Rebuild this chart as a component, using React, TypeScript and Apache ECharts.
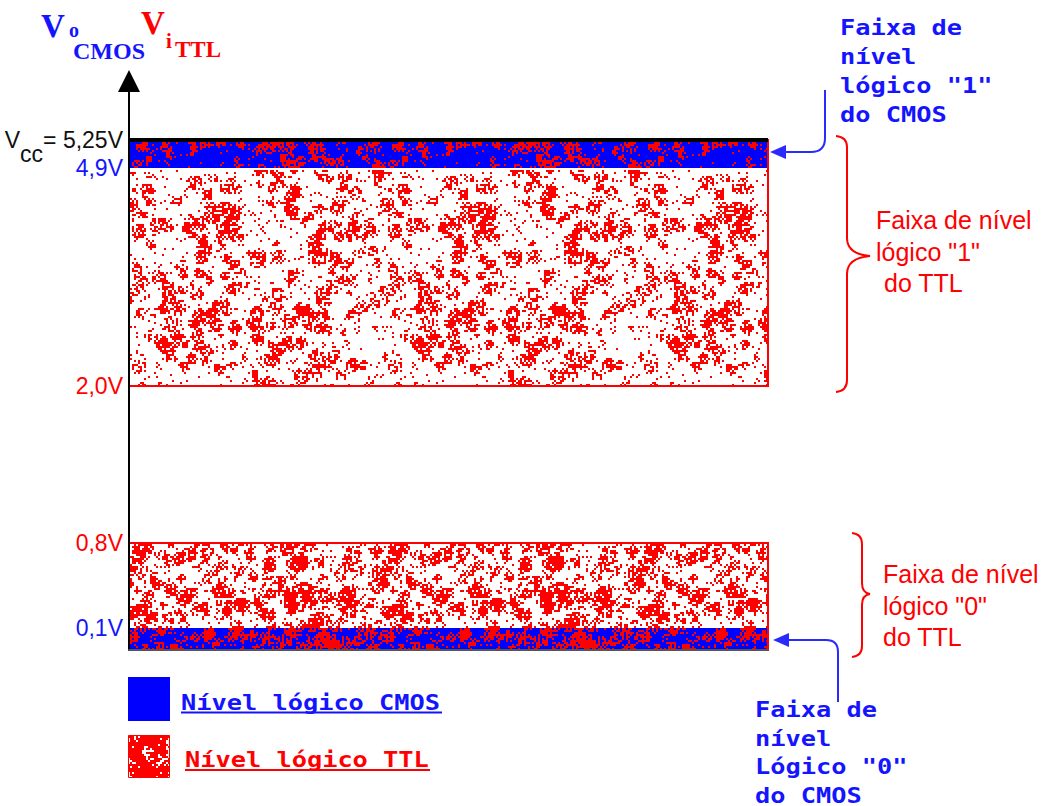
import React, { useEffect, useRef } from "react";
import * as echarts from "echarts";

// ---------------- data ----------------
const levelVolts = [5.25, 4.9, 2.0, 0.8, 0.1];
const levelTexts = ["Vcc= 5,25V", "4,9V", "2,0V", "0,8V", "0,1V"];
const levelFamilies = ["vcc", "cmos", "ttl", "ttl", "cmos"];
const cmosBands = [
  [0, 0.1],
  [4.9, 5.25],
];
const ttlBands = [
  [0, 0.8],
  [2.0, 5.25],
];
const supplyVolts = 5.25;

const titleCmos = ["V", "o", "CMOS"];
const titleTtl = ["V", "i", "TTL"];
const noteCmosHigh = ["Faixa de", "nível", 'lógico "1"', "do CMOS"];
const noteTtlHigh = ["Faixa de nível", 'lógico "1"', "do TTL"];
const noteTtlLow = ["Faixa de nível", 'lógico "0"', "do TTL"];
const noteCmosLow = ["Faixa de", "nível", 'Lógico "0"', "do CMOS"];
const legendTexts = ["Nível lógico CMOS", "Nível lógico TTL"];

// -------- axis scale (piecewise, as drawn in the diagram) --------
const scaleVolts = [0, 0.1, 0.8, 2.0, 4.9, 5.25];
const scaleUnits = [0, 22, 107, 264, 482, 510];
const axisMax = 569;

function toAxis(v: number): number {
  for (let i = 1; i < scaleVolts.length; i++) {
    if (v <= scaleVolts[i]) {
      const t = (v - scaleVolts[i - 1]) / (scaleVolts[i] - scaleVolts[i - 1]);
      return scaleUnits[i - 1] + t * (scaleUnits[i] - scaleUnits[i - 1]);
    }
  }
  return scaleUnits[scaleUnits.length - 1];
}

// ---------------- styles ----------------
const BLUE = "#0000ff";
const BLUE_TXT = "#1414ff";
const RED = "#ff0000";
const MONO = 'bold 21px "DejaVu Sans Mono"';
const SANS = '25px "Liberation Sans"';
const SERIF = '"Liberation Serif"';
const TEX = 256;

function makeSpeckle(seed: number, blobs: number, singles: number, fillP = 0.55): string {
  const cell = 2;
  const n = TEX / cell;
  const cells = new Uint8Array(n * n);
  let s = seed >>> 0;
  const next = () => {
    s = (Math.imul(s, 1664525) + 1013904223) >>> 0;
    return s / 4294967296;
  };
  for (let b = 0; b < blobs; b++) {
    const cx = Math.floor(next() * n);
    const cy = Math.floor(next() * n);
    const r = 1 + next() * 3;
    const R = Math.ceil(r);
    for (let dy = -R; dy <= R; dy++) {
      for (let dx = -R; dx <= R; dx++) {
        if (dx * dx + dy * dy <= r * r && next() < fillP) {
          const gx = (((cx + dx) % n) + n) % n;
          const gy = (((cy + dy) % n) + n) % n;
          cells[gy * n + gx] = 1;
        }
      }
    }
  }
  for (let k = 0; k < singles; k++) cells[Math.floor(next() * n * n)] = 1;
  const c = document.createElement("canvas");
  c.width = TEX;
  c.height = TEX;
  const ctx = c.getContext("2d")!;
  ctx.fillStyle = RED;
  for (let i = 0; i < n * n; i++) {
    if (cells[i]) ctx.fillRect((i % n) * cell, Math.floor(i / n) * cell, cell, cell);
  }
  return c.toDataURL("image/png");
}

export default function App() {
  const ref = useRef<HTMLDivElement>(null);

  useEffect(() => {
    const el = ref.current!;
    const chart = echarts.init(el, null, { renderer: "svg" });
    const pattern = (url: string) => ({
      image: url,
      repeat: "repeat",
      imageWidth: TEX,
      imageHeight: TEX,
    });
    const lightTex = pattern(makeSpeckle(12345, 330, 900));
    const denseTex = pattern(makeSpeckle(67891, 560, 1500));
    const legendTex = pattern(makeSpeckle(24680, 1500, 3000, 0.7));

    const labelValues = levelVolts.map(toAxis);
    const fontBase = { fontSize: 23, fontFamily: "Liberation Sans" };
    const labelFor = (val: number) => {
      let idx = -1;
      labelValues.forEach((u, i) => {
        if (Math.abs(u - val) < 0.5) idx = i;
      });
      if (idx < 0) return "";
      const txt = levelTexts[idx];
      const fam = levelFamilies[idx];
      if (fam === "vcc") return "{k|V}{s|cc}{k|" + txt.slice(3) + "}";
      return (fam === "cmos" ? "{b|" : "{r|") + txt + "}";
    };
    const rich = {
      k: { ...fontBase, color: "#111" },
      s: { ...fontBase, color: "#111", padding: [28, 0, 0, 0] },
      b: { ...fontBase, color: BLUE_TXT },
      r: { ...fontBase, color: RED },
    };
    const vccValues = labelValues.filter((_, i) => levelFamilies[i] === "vcc");
    const otherValues = labelValues.filter((_, i) => levelFamilies[i] !== "vcc");

    const yBase = {
      type: "value",
      min: 0,
      max: axisMax,
      position: "left",
      offset: 0,
      axisTick: { show: false },
      splitLine: { show: false },
    };

    chart.setOption({
      animation: false,
      backgroundColor: "#ffffff",
      grid: {
        left: 129,
        right: 276,
        top: 81,
        bottom: 156,
        containLabel: false,
        outerBoundsMode: "none",
      },
      xAxis: {
        type: "value",
        min: 0,
        max: 1,
        z: 10,
        axisLine: { show: true, lineStyle: { color: "#555", width: 2 } },
        axisTick: { show: false },
        axisLabel: { show: false },
        splitLine: { show: false },
      },
      yAxis: [
        {
          ...yBase,
          z: 10,
          axisLine: {
            show: true,
            onZero: false,
            symbol: ["none", "triangle"],
            symbolSize: [22, 22],
            lineStyle: { color: "#000", width: 2 },
          },
          axisLabel: {
            show: true,
            customValues: otherValues,
            margin: 6,
            hideOverlap: false,
            formatter: labelFor,
            rich,
          },
        },
        {
          ...yBase,
          z: 10,
          axisLine: { show: false },
          axisLabel: {
            show: true,
            customValues: vccValues,
            margin: 6,
            hideOverlap: false,
            formatter: labelFor,
            rich,
          },
        },
      ],
      series: [
        {
          type: "custom",
          name: "CMOS",
          z: 2,
          silent: true,
          encode: { x: [0, 1], y: [2, 3] },
          data: cmosBands.map(([a, b]) => [0, 1, toAxis(a), toAxis(b)]),
          renderItem: (params: any, api: any) => {
            const p0 = api.coord([api.value(0), api.value(3)]);
            const p1 = api.coord([api.value(1), api.value(2)]);
            return {
              type: "rect",
              shape: { x: p0[0], y: p0[1], width: p1[0] - p0[0], height: p1[1] - p0[1] },
              style: { fill: BLUE },
            };
          },
        },
        {
          type: "custom",
          name: "TTL",
          z: 3,
          silent: true,
          encode: { x: [0, 1], y: [2, 3] },
          data: ttlBands.map(([a, b]) => [0, 1, toAxis(a), toAxis(b)]),
          renderItem: (params: any, api: any) => {
            const p0 = api.coord([api.value(0), api.value(3)]);
            const p1 = api.coord([api.value(1), api.value(2)]);
            return {
              type: "rect",
              shape: { x: p0[0], y: p0[1], width: p1[0] - p0[0], height: p1[1] - p0[1] },
              style: {
                fill: params.dataIndex === 0 ? denseTex : lightTex,
                stroke: RED,
                lineWidth: 2,
              },
            };
          },
        },
        {
          type: "line",
          name: "Vcc",
          z: 5,
          silent: true,
          symbol: "none",
          lineStyle: { color: "#000", width: 4 },
          data: [
            [0, toAxis(supplyVolts)],
            [1, toAxis(supplyVolts)],
          ],
        },
      ],
    });

    const yPx = (v: number) => chart.convertToPixel({ yAxisIndex: 0 }, toAxis(v)) as number;
    const xPx = (x: number) => chart.convertToPixel({ xAxisIndex: 0 }, x) as number;
    const xr = xPx(1);
    const xl = xPx(0);

    // braces
    const bt = yPx(supplyVolts) - 4;
    const bb = yPx(2.0) + 6;
    const bm = (bt + bb) / 2 - 8;
    const bx = xr + 79;
    const braceTop = `M${bx - 11},${bt} Q${bx},${bt + 1} ${bx},${bt + 11} L${bx},${bm - 18} Q${bx},${bm - 2} ${bx + 23},${bm} Q${bx},${bm + 2} ${bx},${bm + 18} L${bx},${bb - 12} Q${bx},${bb - 1} ${bx - 11},${bb}`;
    const lt = yPx(0.8) - 10;
    const lb = yPx(0) + 7;
    const lm = (lt + lb) / 2 - 1;
    const lx = xr + 94;
    const braceLow = `M${lx - 10},${lt} Q${lx},${lt + 1} ${lx},${lt + 11} L${lx},${lm - 11} Q${lx},${lm - 1} ${lx + 8},${lm} Q${lx},${lm + 1} ${lx},${lm + 11} L${lx},${lb - 11} Q${lx},${lb - 1} ${lx - 10},${lb}`;

    // arrows
    const ay1 = (yPx(4.9) + yPx(5.25)) / 2 - 2;
    const ax1 = xr + 57;
    const arrowTop = `M${ax1},90 L${ax1},${ay1 - 14} Q${ax1},${ay1} ${ax1 - 14},${ay1} L${xr + 16},${ay1}`;
    const ay2 = (yPx(0) + yPx(0.1)) / 2 + 1;
    const ax2 = xr + 70;
    const arrowLow = `M${ax2},702 L${ax2},${ay2 + 12} Q${ax2},${ay2} ${ax2 - 12},${ay2} L${xr + 20},${ay2}`;

    echarts.graphic.registerShape("braceTop", echarts.graphic.extendPath(braceTop, {}));
    echarts.graphic.registerShape("braceLow", echarts.graphic.extendPath(braceLow, {}));
    echarts.graphic.registerShape("arrowTop", echarts.graphic.extendPath(arrowTop, {}));
    echarts.graphic.registerShape("arrowLow", echarts.graphic.extendPath(arrowLow, {}));

    const elements: any[] = [];
    const pathEl = (type: string, color: string) => ({
      type,
      x: 0,
      y: 0,
      silent: true,
      style: { fill: "none", stroke: color, lineWidth: 2 },
    });
    elements.push(pathEl("braceTop", RED));
    elements.push(pathEl("braceLow", RED));
    elements.push(pathEl("arrowTop", "#2a2aff"));
    elements.push(pathEl("arrowLow", "#2a2aff"));
    elements.push({
      type: "polygon",
      silent: true,
      shape: { points: [[xr + 2, ay1], [xr + 18, ay1 - 7], [xr + 18, ay1 + 7]] },
      style: { fill: "#2a2aff" },
    });
    elements.push({
      type: "polygon",
      silent: true,
      shape: { points: [[xr + 5, ay2], [xr + 21, ay2 - 7], [xr + 21, ay2 + 7]] },
      style: { fill: "#2a2aff" },
    });
    // thin white separation under the upper CMOS band
    elements.push({
      type: "line",
      silent: true,
      z: 4,
      shape: { x1: xl + 1, y1: yPx(4.9) + 1, x2: xr - 1, y2: yPx(4.9) + 1 },
      style: { stroke: "#ffffff", lineWidth: 2 },
    });

    const textLine = (
      text: string,
      x: number,
      baseline: number,
      font: string,
      fs: number,
      color: string,
      scaleX = 1
    ) => ({
      type: "text",
      silent: true,
      x,
      y: baseline - 0.35 * fs,
      scaleX,
      style: { text, font, fill: color, align: "left", verticalAlign: "middle" },
    });

    // title
    elements.push(textLine(titleCmos[0], 41, 38, `bold 33px ${SERIF}`, 33, BLUE_TXT));
    elements.push(textLine(titleCmos[1], 69, 37, `bold 20px ${SERIF}`, 20, BLUE_TXT));
    elements.push(textLine(titleCmos[2], 73, 59, `bold 24px ${SERIF}`, 24, BLUE_TXT));
    elements.push(textLine(titleTtl[0], 141, 35, `bold 33px ${SERIF}`, 33, RED));
    elements.push(textLine(titleTtl[1], 166, 48, `bold 21px ${SERIF}`, 21, RED));
    elements.push(textLine(titleTtl[2], 175, 58, `bold 23px ${SERIF}`, 23, RED));

    // notes
    noteCmosHigh.forEach((t, i) =>
      elements.push(textLine(t, 840, 35 + i * 29, MONO, 21, BLUE_TXT, 1.206))
    );
    noteCmosLow.forEach((t, i) =>
      elements.push(textLine(t, 755, 717 + i * 28.5, MONO, 21, BLUE_TXT, 1.206))
    );
    noteTtlHigh.forEach((t, i) =>
      elements.push(textLine(t, i === 2 ? 884 : 876, 229 + i * 31.5, SANS, 25, RED))
    );
    noteTtlLow.forEach((t, i) =>
      elements.push(textLine(t, 883, 583 + i * 31.5, SANS, 25, RED))
    );

    // legend
    elements.push({
      type: "rect",
      silent: true,
      shape: { x: 128, y: 677, width: 42, height: 44 },
      style: { fill: BLUE },
    });
    elements.push({
      type: "rect",
      silent: true,
      shape: { x: 128.5, y: 735.5, width: 41, height: 42 },
      style: { fill: legendTex, stroke: RED, lineWidth: 1 },
    });
    elements.push(textLine(legendTexts[0], 181, 710, MONO, 21, BLUE_TXT, 1.206));
    elements.push(textLine(legendTexts[1], 185, 767, MONO, 21, RED, 1.206));
    elements.push({
      type: "line",
      silent: true,
      shape: { x1: 181, y1: 712.5, x2: 442, y2: 712.5 },
      style: { stroke: BLUE_TXT, lineWidth: 2 },
    });
    elements.push({
      type: "line",
      silent: true,
      shape: { x1: 185, y1: 770, x2: 430, y2: 770 },
      style: { stroke: RED, lineWidth: 2 },
    });

    chart.setOption({ graphic: { elements } });

    return () => chart.dispose();
  }, []);

  return (
    <div
      ref={ref}
      style={{
        position: "fixed",
        left: 0,
        top: 0,
        width: 1044,
        height: 806,
        background: "#ffffff",
      }}
    />
  );
}
